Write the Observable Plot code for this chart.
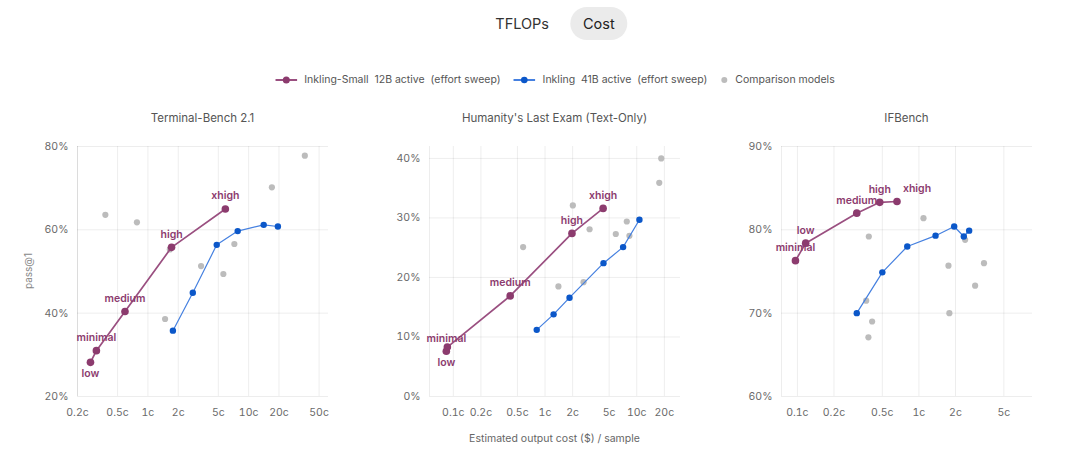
<!DOCTYPE html>
<html>
<head>
<meta charset="utf-8">
<script src="https://cdn.jsdelivr.net/npm/d3@7"></script>
<script src="https://cdn.jsdelivr.net/npm/@observablehq/plot@0.6"></script>
<style>
  html, body { margin: 0; padding: 0; background: #fff; }
  body { width: 1080px; height: 449px; position: relative; overflow: hidden; font-family: Inter, "Noto Sans", sans-serif; }
  .abs { position: absolute; }
  .toggle { left: 555px; top: 7px; transform: translateX(-50%); display: flex; align-items: center; gap: 8px; font-size: 14.5px; color: #333; white-space: nowrap; }
  .toggle span { display: inline-block; padding: 0 13px; height: 33px; line-height: 33px; border-radius: 17px; }
  .toggle .on { background: #ebebeb; color: #222; }
  .legend { left: 555px; top: 73px; transform: translateX(-50%); display: flex; align-items: center; font-size: 10.5px; color: #555; white-space: pre; }
  .legend .item { display: flex; align-items: center; margin-right: 13px; }
  .legend .item:last-child { margin-right: 0; }
  .legend svg { margin-right: 7px; }
  .title { top: 111px; font-size: 11.5px; color: #555; text-align: center; width: 251px; }
  .xlabel { top: 432px; font-size: 10.5px; color: #666; text-align: center; width: 300px; }
  .ylabel { left: 28px; top: 271px; font-size: 10px; color: #888; transform: translate(-50%, -50%) rotate(-90deg); white-space: nowrap; }
  .panel { top: 130px; }
</style>
</head>
<body>
<div class="abs toggle"><span>TFLOPs</span><span class="on">Cost</span></div>
<div class="abs legend" id="legend"></div>
<div id="charts"></div>
<script>
// ---------- data (cost in cents per sample, score in %) ----------
const efforts = ["minimal", "low", "medium", "high", "xhigh"];

// Terminal-Bench 2.1
const tbSmallCost  = [0.308, 0.269, 0.592, 1.716, 5.87];
const tbSmallScore = [31.0, 28.2, 40.4, 55.8, 65.0];
const tbLargeCost  = [1.77, 2.79, 4.82, 7.78, 14.1, 19.5];
const tbLargeScore = [35.8, 44.9, 56.4, 59.7, 61.2, 60.8];
const tbOtherCost  = [0.378, 0.778, 1.48, 1.65, 3.37, 5.61, 7.21, 17.0, 36.1];
const tbOtherScore = [63.6, 61.8, 38.6, 55.3, 51.3, 49.4, 56.6, 70.2, 77.8];
const tbXTicks = [0.2, 0.5, 1, 2, 5, 10, 20, 50];
const tbYTicks = [20, 40, 60, 80];

// Humanity's Last Exam (Text-Only)
const hleSmallCost  = [0.0861, 0.0839, 0.417, 1.966, 4.30];
const hleSmallScore = [8.3, 7.6, 16.9, 27.4, 31.6];
const hleLargeCost  = [0.812, 1.24, 1.85, 4.34, 7.10, 10.7];
const hleLargeScore = [11.2, 13.8, 16.6, 22.4, 25.1, 29.7];
const hleOtherCost  = [0.577, 1.40, 2.01, 2.63, 3.06, 5.91, 7.79, 8.32, 17.6, 18.5];
const hleOtherScore = [25.1, 18.5, 32.1, 19.2, 28.1, 27.3, 29.4, 27.0, 35.9, 40.0];
const hleXTicks = [0.1, 0.2, 0.5, 1, 2, 5, 10, 20];
const hleYTicks = [0, 10, 20, 30, 40];

// IFBench
const ifSmallCost  = [0.0964, 0.117, 0.308, 0.476, 0.660];
const ifSmallScore = [76.3, 78.4, 82.0, 83.3, 83.4];
const ifLargeCost  = [0.308, 0.500, 0.802, 1.37, 1.95, 2.34, 2.59];
const ifLargeScore = [70.0, 74.9, 78.0, 79.3, 80.4, 79.2, 79.9];
const ifOtherCost  = [0.387, 0.368, 0.412, 0.384, 1.09, 1.75, 1.78, 2.40, 2.90, 3.43];
const ifOtherScore = [79.2, 71.5, 69.0, 67.1, 81.4, 75.7, 70.0, 78.8, 73.3, 76.0];
const ifXTicks = [0.1, 0.2, 0.5, 1, 2, 5];
const ifYTicks = [60, 70, 80, 90];

const seriesNames = ["Inkling-Small  12B active  (effort sweep)", "Inkling  41B active  (effort sweep)", "Comparison models"];

// ---------- presentation ----------
const purple = "#8c3b6e", purpleLine = "#9a4f80";
const blue = "#0b57c9", blueLine = "#4580e0";
const gray = "#bcbcbc";

const panels = [
  { title: "Terminal-Bench 2.1", sc: tbSmallCost, ss: tbSmallScore, lc: tbLargeCost, ls: tbLargeScore, oc: tbOtherCost, os: tbOtherScore,
    xt: tbXTicks, yt: tbYTicks, xd: [0.2, 62], yd: [20, 80], place: { low: "below" } },
  { title: "Humanity's Last Exam (Text-Only)", sc: hleSmallCost, ss: hleSmallScore, lc: hleLargeCost, ls: hleLargeScore, oc: hleOtherCost, os: hleOtherScore,
    xt: hleXTicks, yt: hleYTicks, xd: [0.055, 30], yd: [0, 42], place: { low: "below", minimal: "near" } },
  { title: "IFBench", sc: ifSmallCost, ss: ifSmallScore, lc: ifLargeCost, ls: ifLargeScore, oc: ifOtherCost, os: ifOtherScore,
    xt: ifXTicks, yt: ifYTicks, xd: [0.074, 8.6], yd: [60, 90], place: { xhigh: "right" } }
];

const offsets = { above: [0, -13], below: [0, 11], near: [-1, -8], right: [20, -13] };
const fmtX = d => d + "c";
const fmtY = d => d + "%";

const W = 352, H = 319, ML = 77, MR = 24, MT = 16, MB = 53;
const charts = document.getElementById("charts");

panels.forEach((p, i) => {
  const small = p.sc.map((c, j) => ({ cost: c, score: p.ss[j], effort: efforts[j], place: p.place[efforts[j]] || "above" }))
                    .sort((a, b) => a.cost - b.cost);
  const large = p.lc.map((c, j) => ({ cost: c, score: p.ls[j] })).sort((a, b) => a.cost - b.cost);
  const other = p.oc.map((c, j) => ({ cost: c, score: p.os[j] }));

  const labelMarks = Object.entries(offsets).map(([k, [dx, dy]]) =>
    Plot.text(small.filter(d => d.place === k), {
      x: "cost", y: "score", text: "effort", dx, dy,
      fill: purple, fontSize: 10.5, fontWeight: 600
    }));

  const chart = Plot.plot({
    width: W, height: H, marginLeft: ML, marginRight: MR, marginTop: MT, marginBottom: MB,
    style: { fontFamily: "Inter, 'Noto Sans', sans-serif", fontSize: "10.5px", color: "#6a6a6a", background: "transparent", overflow: "visible" },
    x: { type: "log", domain: p.xd, ticks: p.xt, label: null },
    y: { domain: p.yd, ticks: p.yt, tickFormat: fmtY, label: null },
    marks: [
      Plot.gridX(p.xt, { stroke: "#000", strokeOpacity: 0.07 }),
      Plot.gridY(p.yt, { stroke: "#000", strokeOpacity: 0.07 }),
      Plot.ruleX([p.xd[0]], { stroke: "#000", strokeOpacity: 0.07 }),
      Plot.axisX(p.xt, { tickSize: 0, tickPadding: 12, text: fmtX, label: null }),
      Plot.axisY(p.yt, { tickSize: 0, tickPadding: 9, tickFormat: fmtY, label: null }),
      Plot.dot(other, { x: "cost", y: "score", r: 3.1, fill: gray }),
      Plot.line(large, { x: "cost", y: "score", stroke: blueLine, strokeWidth: 1.2 }),
      Plot.dot(large, { x: "cost", y: "score", r: 3.2, fill: blue }),
      Plot.line(small, { x: "cost", y: "score", stroke: purpleLine, strokeWidth: 1.7 }),
      Plot.dot(small, { x: "cost", y: "score", r: 3.8, fill: purple }),
      ...labelMarks
    ]
  });
  const wrap = document.createElement("div");
  wrap.className = "abs panel";
  wrap.style.left = (i * W) + "px";
  wrap.appendChild(chart);
  charts.appendChild(wrap);

  const t = document.createElement("div");
  t.className = "abs title";
  t.style.left = (i * W + ML) + "px";
  t.style.width = (W - ML - MR) + "px";
  t.textContent = p.title;
  charts.appendChild(t);
});

// axis titles
const yl = document.createElement("div");
yl.className = "abs ylabel"; yl.textContent = "pass@1";
charts.appendChild(yl);
const xl = document.createElement("div");
xl.className = "abs xlabel"; xl.style.left = (W + ML + (W - ML - MR) / 2 - 150) + "px";
xl.textContent = "Estimated output cost ($) / sample";
charts.appendChild(xl);

// legend
const legend = document.getElementById("legend");
const legendColors = [[purple, purpleLine, 3.5, true], [blue, blueLine, 3.3, true], [gray, gray, 3, false]];
seriesNames.forEach((name, k) => {
  const [c, lc, r, hasLine] = legendColors[k];
  const item = document.createElement("div");
  item.className = "item";
  const w = hasLine ? 22 : 8;
  item.innerHTML = `<svg width="${w}" height="10">` +
    (hasLine ? `<line x1="0" x2="${w}" y1="5" y2="5" stroke="${lc}" stroke-width="2"/>` : "") +
    `<circle cx="${w / 2}" cy="5" r="${r}" fill="${c}"/></svg><span>${name}</span>`;
  legend.appendChild(item);
});
</script>
</body>
</html>
